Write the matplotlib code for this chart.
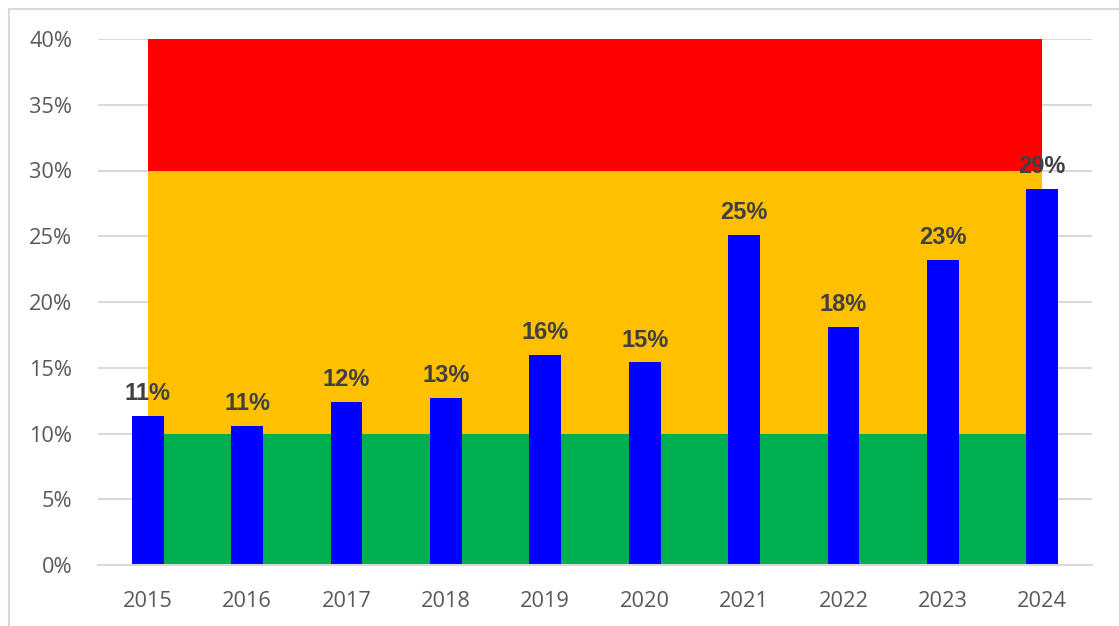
import matplotlib.pyplot as plt
from matplotlib.patches import Rectangle

# Data
years = ['2015', '2016', '2017', '2018', '2019', '2020', '2021', '2022', '2023', '2024']
rate = [11.3, 10.6, 12.4, 12.7, 16.0, 15.4, 25.1, 18.1, 23.2, 28.6]  # percent

# Background zones (percent)
zone_edges = [0, 10, 30, 40]
zone_colors = ['#00B050', '#FFC000', '#FF0000']

fig = plt.figure(figsize=(11.19, 6.26), dpi=100)
ax = fig.add_axes([98/1119, 61/626, 994/1119, 526/626])

x = list(range(len(years)))

# coloured zones from first to last category centre
for lo, hi, col in zip(zone_edges[:-1], zone_edges[1:], zone_colors):
    ax.fill_between([x[0], x[-1]], lo, hi, color=col, lw=0, zorder=1)

bars = ax.bar(x, rate, width=0.32, color='#0000FF', zorder=2)

# Data labels
for xi, v in zip(x, rate):
    ax.annotate(f'{round(v):.0f}%', (xi, v), xytext=(0, 11.5), textcoords='offset points',
                ha='center', va='baseline', fontsize=17, fontweight='bold',
                color='#404040', family='Liberation Sans', zorder=3)

ax.set_xlim(-0.5, len(years) - 0.5)
ax.set_ylim(0, 40)
ax.set_yticks(range(0, 41, 5))
ax.set_yticklabels([f'{t}%' for t in range(0, 41, 5)])
ax.set_xticks(x)
ax.set_xticklabels(years)

ax.yaxis.grid(True, color='#D9D9D9', lw=1.5, zorder=0)
ax.set_axisbelow(True)
for s in ['top', 'right', 'left']:
    ax.spines[s].set_visible(False)
ax.spines['bottom'].set_color('#D9D9D9')
ax.spines['bottom'].set_linewidth(1.5)
ax.spines['bottom'].set_zorder(4)

ax.tick_params(axis='both', length=0, labelsize=15.7, labelcolor='#595959')
ax.tick_params(axis='y', pad=18.5)
ax.tick_params(axis='x', pad=18.5)
for lab in ax.get_xticklabels() + ax.get_yticklabels():
    lab.set_family('Open Sans')

# light chart border (cropped at right and bottom)
fig.patches.append(Rectangle((9/1119, -0.1), 1.2, (626 - 9)/626 + 0.1,
                             transform=fig.transFigure, fill=False,
                             edgecolor='#D9D9D9', lw=1.5))

fig.savefig('out.png', dpi=100)
